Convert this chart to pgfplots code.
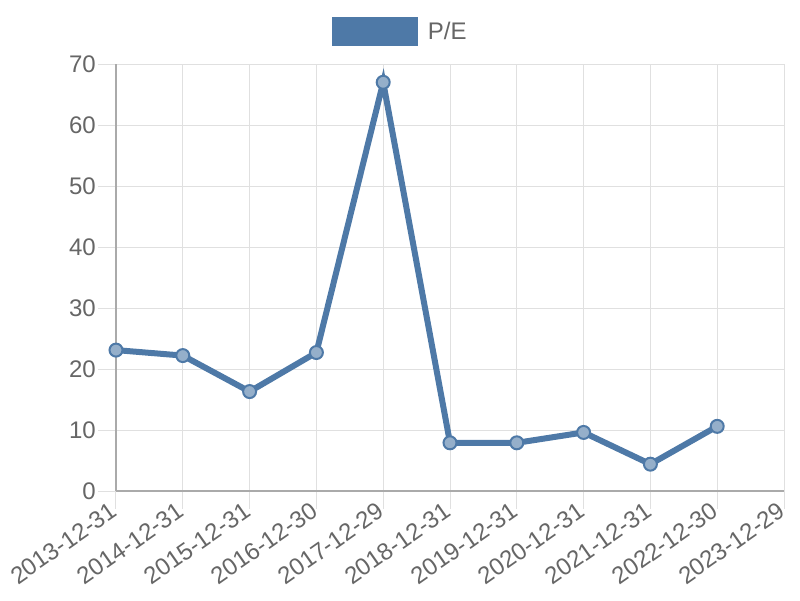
\documentclass[border=0pt]{standalone}
\usepackage{fontspec}
\setmainfont{Liberation Sans}
\usepackage{pgfplots}
\pgfplotsset{compat=1.18}
\definecolor{pe}{RGB}{78,121,167}
\definecolor{gridc}{RGB}{224,224,224}
\definecolor{axc}{RGB}{170,170,170}
\definecolor{txt}{RGB}{102,102,102}
\begin{document}
\begin{tikzpicture}
\begin{axis}[
  at={(0,0)}, anchor=south west,
  scale only axis, width=668pt, height=427pt,
  xmin=0, xmax=10, ymin=0, ymax=70,
  xtick={0,1,...,10},
  xticklabels={2013-12-31,2014-12-31,2015-12-31,2016-12-30,2017-12-29,2018-12-31,2019-12-31,2020-12-31,2021-12-31,2022-12-30,2023-12-29},
  ytick={0,10,...,70},
  grid=major, major grid style={gridc, line width=1pt},
  axis lines*=left, axis line style={axc, line width=1.5pt, -},
  tick align=outside, major tick length=18pt, tick style={gridc, line width=1pt},
  font=\fontsize{24}{28}\selectfont,
  tick label style={text=txt},
  /pgf/number format/assume math mode=true,
  xticklabel style={rotate=35, anchor=east, inner sep=1pt, yshift=2pt},
  yticklabel style={inner sep=2pt},
  clip=false,
  legend style={at={(0.4255,1.077)}, anchor=center, draw=none, fill=none,
    font=\fontsize{24}{28}\selectfont, text=txt},
]
\addplot[color=pe, line width=6pt, line join=miter, mark=*, mark size=6.5pt,
  mark options={fill=pe!60!white, draw=pe, line width=2pt},
  legend image code/.code={\path[fill=pe, draw=none] (0pt,-14.5pt) rectangle (86pt,14.5pt); \path (91pt,0pt);}]
  coordinates {(0,23.1) (1,22.2) (2,16.3) (3,22.7) (4,67.0) (5,7.9) (6,7.9) (7,9.6) (8,4.4) (9,10.6)};
\addlegendentry{P/E}
\end{axis}
\pgfresetboundingbox
\useasboundingbox (-116pt,-109pt) rectangle (684pt,491pt);
\end{tikzpicture}
\end{document}
